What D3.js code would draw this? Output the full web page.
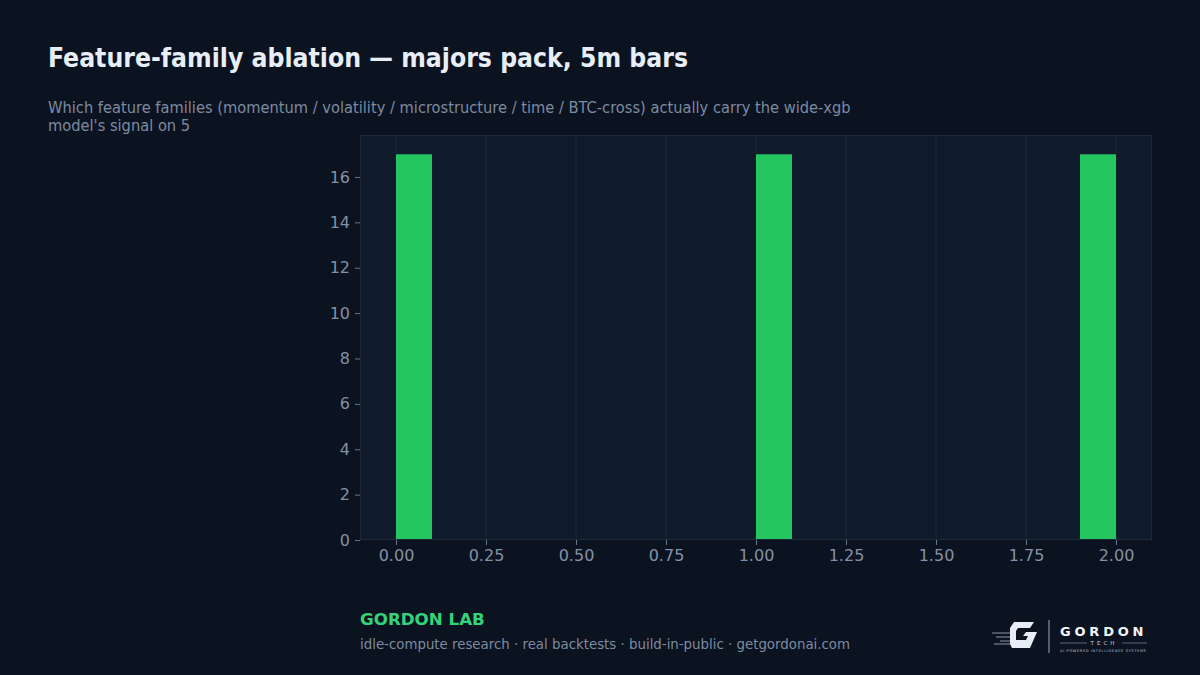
<!DOCTYPE html>
<html><head><meta charset="utf-8">
<script src="https://cdn.jsdelivr.net/npm/d3@7"></script>
<style>
html,body{margin:0;padding:0;background:#0b1220;}
svg{display:block;}
</style></head>
<body>
<svg id="chart" width="1200" height="675"></svg>
<script>
const titleText = "Feature-family ablation — majors pack, 5m bars";
const subtitleLines = ["Which feature families (momentum / volatility / microstructure / time / BTC-cross) actually carry the wide-xgb", "model's signal on 5"];
const binStarts = [0.0, 1.0, 1.9];
const binEnds = [0.1, 1.1, 2.0];
const counts = [17, 17, 17];
const xTicks = [0, 0.25, 0.5, 0.75, 1.0, 1.25, 1.5, 1.75, 2.0];
const yTicks = [0, 2, 4, 6, 8, 10, 12, 14, 16];
const footerBrand = "GORDON LAB";
const footerLine = "idle-compute research · real backtests · build-in-public · getgordonai.com";

const svg = d3.select("#chart");
const W = 1200, H = 675;
svg.append("rect").attr("width", W).attr("height", H).attr("fill", "#0b1220");

const plot = {left: 360, right: 1152, top: 135, bottom: 540};
const xMin = -0.1, xMax = 2.1;
const yMax = d3.max(counts) * 1.05;
const x = d3.scaleLinear().domain([xMin, xMax]).range([plot.left, plot.right]);
const y = d3.scaleLinear().domain([0, yMax]).range([plot.bottom, plot.top]);

const condensed = "'DejaVu Sans Condensed','DejaVu Sans',sans-serif";
// title / subtitle
svg.append("text").attr("x", 48).attr("y", 67)
  .attr("font-family", condensed).attr("font-stretch", "condensed")
  .attr("font-weight", "bold").attr("font-size", 26.3).attr("fill", "#e8eef7").text(titleText);
subtitleLines.forEach((t, i) => {
  svg.append("text").attr("x", 48).attr("y", 113 + i * 18.2)
    .attr("font-family", condensed).attr("font-stretch", "condensed")
    .attr("font-size", 16.3).attr("fill", "#7d8ba0").text(t);
});

// plot background
svg.append("rect").attr("x", plot.left).attr("y", plot.top)
  .attr("width", plot.right - plot.left).attr("height", plot.bottom - plot.top)
  .attr("fill", "#0f1b2b");

// vertical grid
svg.append("g").selectAll("line").data(xTicks).join("line")
  .attr("x1", d => x(d)).attr("x2", d => x(d))
  .attr("y1", plot.top).attr("y2", plot.bottom)
  .attr("stroke", "#1e2a3b").attr("stroke-width", 1);

// bars
svg.append("g").selectAll("rect").data(counts).join("rect")
  .attr("x", (d, i) => x(binStarts[i]))
  .attr("width", (d, i) => x(binEnds[i]) - x(binStarts[i]))
  .attr("y", d => y(d))
  .attr("height", d => y(0) - y(d))
  .attr("fill", "#22c55e");

// frame
svg.append("rect").attr("x", plot.left + 0.5).attr("y", plot.top + 0.5)
  .attr("width", plot.right - plot.left - 1).attr("height", plot.bottom - plot.top - 1)
  .attr("fill", "none").attr("stroke", "#1e2a3b").attr("stroke-width", 1);

// axes
const tickColor = "#8391a5";
const xAxis = d3.axisBottom(x).tickValues(xTicks).tickFormat(d3.format(".2f")).tickSize(5).tickPadding(5);
const gx = svg.append("g").attr("transform", `translate(0,${plot.bottom})`).call(xAxis);
const yAxis = d3.axisLeft(y).tickValues(yTicks).tickFormat(d3.format("d")).tickSize(5).tickPadding(5);
const gy = svg.append("g").attr("transform", `translate(${plot.left},0)`).call(yAxis);
[gx, gy].forEach(g => {
  g.select(".domain").remove();
  g.selectAll(".tick line").attr("stroke", tickColor).attr("stroke-width", 0.8);
  g.selectAll(".tick text").attr("fill", tickColor)
    .attr("font-family", "'DejaVu Sans',sans-serif").attr("font-size", 16);
});

// footer
svg.append("text").attr("x", 360).attr("y", 625)
  .attr("font-family", "'DejaVu Sans',sans-serif").attr("font-weight", "bold")
  .attr("font-size", 16.7).attr("fill", "#34d27b").text(footerBrand);
svg.append("text").attr("x", 360).attr("y", 649)
  .attr("font-family", "'DejaVu Sans',sans-serif")
  .attr("font-size", 13.35).attr("fill", "#7d8ba0").text(footerLine);

// logo
const logo = svg.append("g").attr("transform", "translate(990,618)");
logo.append("path")
  .attr("d", "M24,4 L44,4 L40,10 L28,10 L26,13 L26,22 L36,22 L38,18 L33,18 L36,14 L47,14 L40,30 L22,30 L20,26 L20,10 Z")
  .attr("fill", "#e8eef7");
[[2,15],[6,19],[10,23],[4,26]].forEach(([a,b]) => {
  logo.append("line").attr("x1", a).attr("x2", 20).attr("y1", b).attr("y2", b)
    .attr("stroke", "#c9d2de").attr("stroke-width", 0.7);
});
logo.append("line").attr("x1", 59).attr("x2", 59).attr("y1", 2).attr("y2", 35)
  .attr("stroke", "#c9d2de").attr("stroke-width", 0.8);
logo.append("text").attr("x", 70).attr("y", 18).attr("font-family", "'DejaVu Sans',sans-serif")
  .attr("font-size", 13).attr("font-weight", "bold").attr("letter-spacing", 3.8).attr("fill", "#f2f5fa").text("GORDON");
logo.append("text").attr("x", 114).attr("y", 27).attr("text-anchor", "middle").attr("font-family", "'DejaVu Sans',sans-serif")
  .attr("font-size", 5.5).attr("letter-spacing", 3).attr("fill", "#d0d8e4").text("TECH");
logo.append("line").attr("x1", 70).attr("x2", 97).attr("y1", 25).attr("y2", 25).attr("stroke", "#9aa6b6").attr("stroke-width", 0.6);
logo.append("line").attr("x1", 132).attr("x2", 157).attr("y1", 25).attr("y2", 25).attr("stroke", "#9aa6b6").attr("stroke-width", 0.6);
logo.append("text").attr("x", 70).attr("y", 34).attr("font-family", "'DejaVu Sans',sans-serif")
  .attr("font-size", 3.6).attr("letter-spacing", 0.6).attr("fill", "#b8c2d0").text("AI-POWERED INTELLIGENCE SYSTEMS");
</script>
</body></html>
